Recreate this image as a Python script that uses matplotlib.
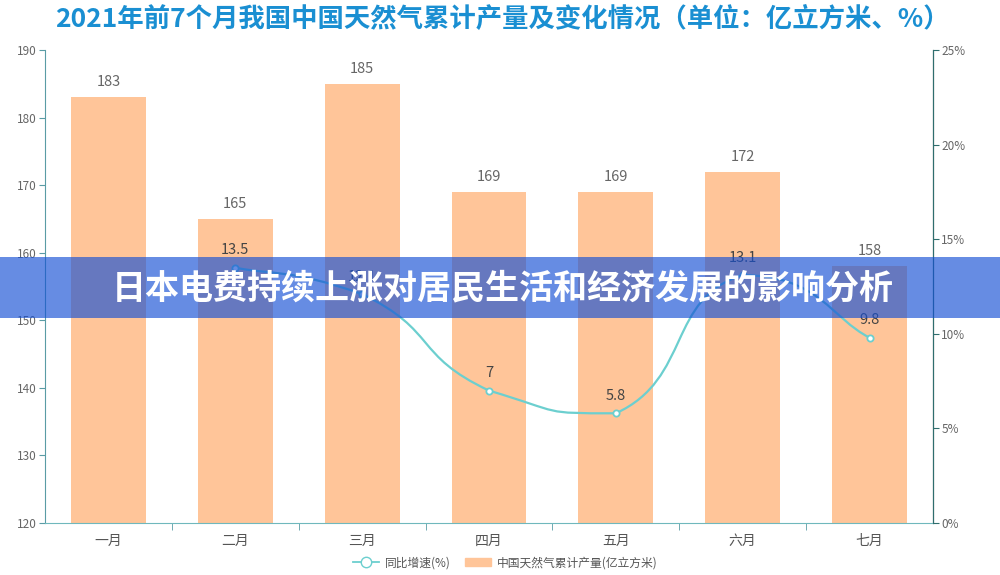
import matplotlib
matplotlib.use("Agg")
import matplotlib.pyplot as plt
import numpy as np
from matplotlib.path import Path
from matplotlib.patches import PathPatch, Rectangle
from matplotlib.lines import Line2D

plt.rcParams['font.family'] = ['Noto Sans CJK SC', 'DejaVu Sans']

months = ['一月', '二月', '三月', '四月', '五月', '六月', '七月']
production = [183, 165, 185, 169, 169, 172, 158]
growth = [None, 13.5, 12.1, 7, 5.8, 13.1, 9.8]
title = '2021年前7个月我国中国天然气累计产量及变化情况（单位：亿立方米、%）'
banner = '日本电费持续上涨对居民生活和经济发展的影响分析'

bar_color = '#ffc599'
line_color = '#6ccfcf'

fig = plt.figure(figsize=(10, 5.75), dpi=100)
ax = fig.add_axes([0.045, 0.0904, 0.888, 0.8226])
ax2 = ax.twinx()

x = np.arange(len(months))
ax.bar(x, [p - 120 for p in production], bottom=120, width=0.59, color=bar_color, zorder=2)
for xi, p in zip(x, production):
    ax.text(xi, p + 1.2, str(p), ha='center', va='bottom', fontsize=10.5, color='#666666')

ax.set_ylim(120, 190)
ax.set_xlim(-0.5, len(months) - 0.5)
ax.set_yticks(range(120, 191, 10))
ax.tick_params(axis='y', colors='#5a9ca5', labelcolor='#666666', labelsize=8.5, length=4, pad=2)
ax.set_xticks(x)
ax.set_xticklabels(months, fontsize=10, color='#555555')
ax.set_xticks(np.arange(0.5, len(months) - 1, 1), minor=True)
ax.tick_params(axis='x', which='major', length=0, pad=8)
ax.tick_params(axis='x', which='minor', length=5, color='#5a9ca5')
for s in ['top']:
    ax.spines[s].set_visible(False)
    ax2.spines[s].set_visible(False)
ax.spines['left'].set_color('#5a9ca5')
ax.spines['bottom'].set_color('#6fb8bd')
ax2.spines['right'].set_color('#2f6e6e')
ax2.spines['left'].set_visible(False)
ax2.spines['bottom'].set_visible(False)

ax2.set_ylim(0, 25)
ax2.set_yticks(range(0, 26, 5))
ax2.set_yticklabels([f'{v}%' for v in range(0, 26, 5)])
ax2.tick_params(axis='y', colors='#2f6e6e', labelcolor='#666666', labelsize=8.5, length=4, pad=2)

# smooth line through available points (clamped Catmull-Rom to Bezier)
px = [xi for xi, g in zip(x, growth) if g is not None]
py = [g for g in growth if g is not None]
pts = np.column_stack([px, py]).astype(float)
verts = [tuple(pts[0])]
codes = [Path.MOVETO]
k = 0.3
for i in range(len(pts) - 1):
    p0 = pts[i - 1] if i > 0 else pts[i]
    p1 = pts[i]
    p2 = pts[i + 1]
    p3 = pts[i + 2] if i + 2 < len(pts) else pts[i + 1]
    c1 = p1 + (p2 - p0) * k
    c2 = p2 - (p3 - p1) * k
    lo, hi = min(p1[1], p2[1]), max(p1[1], p2[1])
    c1[1] = np.clip(c1[1], lo, hi)
    c2[1] = np.clip(c2[1], lo, hi)
    verts += [tuple(c1), tuple(c2), tuple(p2)]
    codes += [Path.CURVE4] * 3
ax2.add_patch(PathPatch(Path(verts, codes), fill=False, edgecolor=line_color, lw=1.6, zorder=3))
ax2.plot(px, py, 'o', ms=4.5, mfc='white', mec=line_color, mew=1.3, zorder=4)
for xi, g in zip(px, py):
    ax2.text(xi, g + 0.55, f'{g:g}', ha='center', va='bottom', fontsize=10.5, color='#444444', zorder=4)

fig.text(0.502, 0.966, title, ha='center', va='center', fontsize=19, fontweight='bold', color='#1a8fd2')

h1 = Line2D([], [], color=line_color, marker='o', mfc='white', mec=line_color, ms=7.5, lw=1.3)
h2 = Rectangle((0, 0), 1, 1, color=bar_color)
fig.legend([h1, h2], ['同比增速(%)', '中国天然气累计产量(亿立方米)'], loc='center',
           bbox_to_anchor=(0.505, 0.021), ncol=2, frameon=False, fontsize=8.5,
           labelcolor='#555555', handlelength=2.2, columnspacing=1.2, handletextpad=0.5)

# banner overlay
fig.patches.append(Rectangle((0, 1 - 318 / 575), 1, 61 / 575, transform=fig.transFigure,
                             facecolor=(0.08, 0.31, 0.83), alpha=0.65, zorder=10))
fig.text(0.503, 1 - 288 / 575, banner, ha='center', va='center', fontsize=24.5,
         fontweight='bold', color='white', zorder=11)

fig.savefig('out.png', dpi=100)
